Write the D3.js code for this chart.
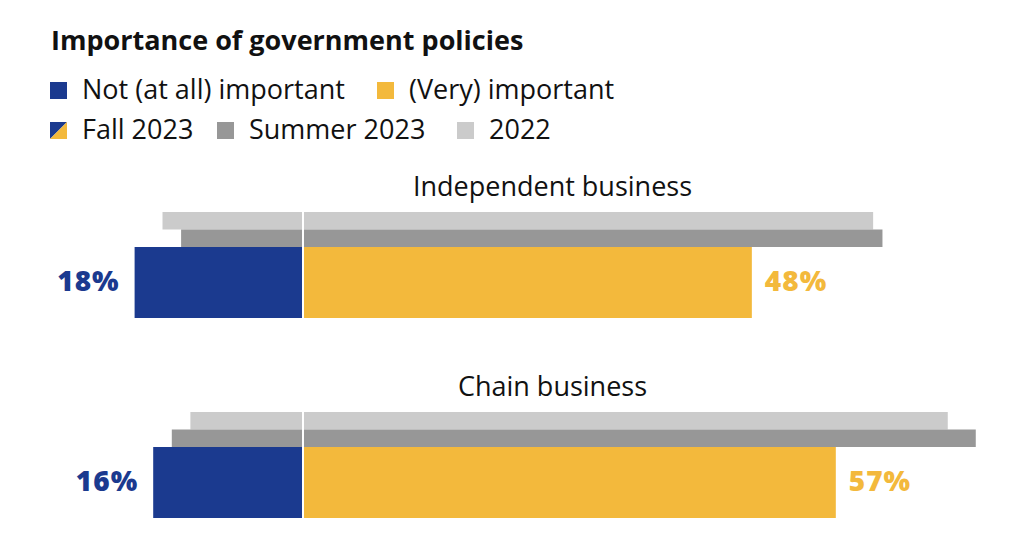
<!DOCTYPE html>
<html><head><meta charset="utf-8">
<script src="https://cdn.jsdelivr.net/npm/d3@7"></script>
<style>body{margin:0;background:#fff}</style></head>
<body><svg id="c" width="1024" height="556"></svg>
<script>
// ---- data ----
const categories = ["Independent business", "Chain business"];
const periods = ["2022", "Summer 2023", "Fall 2023"];
const notImportant2022 = [15, 12];
const notImportantSummer2023 = [13, 14];
const notImportantFall2023 = [18, 16];
const important2022 = [61, 69];
const importantSummer2023 = [62, 72];
const importantFall2023 = [48, 57];
const titleText = "Importance of government policies";

// ---- styles ----
const FONT = "'Open Sans', Lato, sans-serif";
const BLUE = "#1B3A8F", YELLOW = "#F3B93C", DGREY = "#979797", LGREY = "#CBCBCB", TXT = "#111";

const svg = d3.select("#c");

const xL = d3.scaleLinear().domain([0, 100]).range([302, 302 - 930]);
const xR = d3.scaleLinear().domain([0, 100]).range([304, 304 + 933]);
const y = d3.scaleBand().domain(categories).range([212, 518]).paddingInner(0.47);
const rowY = d3.scaleOrdinal().domain(periods).range([0, 17.5, 35]);
const rowH = d3.scaleOrdinal().domain(periods).range([17.5, 17.5, 71]);

const rows = [];
categories.forEach((c, i) => {
  rows.push({cat: c, period: "2022", left: notImportant2022[i], right: important2022[i]});
  rows.push({cat: c, period: "Summer 2023", left: notImportantSummer2023[i], right: importantSummer2023[i]});
  rows.push({cat: c, period: "Fall 2023", left: notImportantFall2023[i], right: importantFall2023[i]});
});
const colL = {"2022": LGREY, "Summer 2023": DGREY, "Fall 2023": BLUE};
const colR = {"2022": LGREY, "Summer 2023": DGREY, "Fall 2023": YELLOW};

const g = svg.append("g");
g.selectAll("rect.l").data(rows).join("rect").attr("class", "l")
  .attr("x", d => xL(d.left)).attr("width", d => xL(0) - xL(d.left))
  .attr("y", d => y(d.cat) + rowY(d.period)).attr("height", d => rowH(d.period))
  .attr("fill", d => colL[d.period]);
g.selectAll("rect.r").data(rows).join("rect").attr("class", "r")
  .attr("x", xR(0)).attr("width", d => xR(d.right) - xR(0))
  .attr("y", d => y(d.cat) + rowY(d.period)).attr("height", d => rowH(d.period))
  .attr("fill", d => colR[d.period]);

const fall = rows.filter(d => d.period === "Fall 2023");
g.selectAll("text.pl").data(fall).join("text").attr("class", "pl")
  .attr("x", d => xL(d.left) - 15).attr("y", d => y(d.cat) + rowY(d.period) + rowH(d.period) / 2 + 8.5)
  .attr("text-anchor", "end").attr("font-family", FONT).attr("font-weight", 800).attr("font-size", 28)
  .attr("letter-spacing", 1).attr("fill", BLUE).text(d => d.left + "%");
g.selectAll("text.pr").data(fall).join("text").attr("class", "pr")
  .attr("x", d => xR(d.right) + 13).attr("y", d => y(d.cat) + rowY(d.period) + rowH(d.period) / 2 + 8.5)
  .attr("text-anchor", "start").attr("font-family", FONT).attr("font-weight", 800).attr("font-size", 28)
  .attr("letter-spacing", 1).attr("fill", YELLOW).text(d => d.right + "%");

g.selectAll("text.cat").data(categories).join("text").attr("class", "cat")
  .attr("x", 552.5).attr("y", d => y(d) - 16).attr("text-anchor", "middle")
  .attr("font-family", FONT).attr("font-size", 27).attr("fill", TXT).text(d => d);

svg.append("text").attr("x", 51).attr("y", 50).attr("font-family", FONT).attr("font-weight", 700)
  .attr("font-size", 27).attr("fill", TXT).text(titleText);

const legend1 = [
  {label: "Not (at all) important", x: 50, color: BLUE},
  {label: "(Very) important", x: 377, color: YELLOW}
];
const legend2 = [
  {label: "Fall 2023", x: 50, color: null},
  {label: "Summer 2023", x: 217, color: DGREY},
  {label: "2022", x: 457, color: LGREY}
];
function drawLegend(items, top) {
  const lg = svg.append("g");
  items.forEach(it => {
    if (it.color) {
      lg.append("rect").attr("x", it.x).attr("y", top).attr("width", 17).attr("height", 17).attr("fill", it.color);
    } else {
      lg.append("path").attr("d", `M${it.x},${top}h17L${it.x},${top + 17}Z`).attr("fill", BLUE);
      lg.append("path").attr("d", `M${it.x + 17},${top}v17h-17Z`).attr("fill", YELLOW);
    }
    lg.append("text").attr("x", it.x + 32).attr("y", top + 17).attr("font-family", FONT)
      .attr("font-size", 27).attr("fill", TXT).text(it.label);
  });
}
drawLegend(legend1, 82);
drawLegend(legend2, 122);
</script></body></html>
